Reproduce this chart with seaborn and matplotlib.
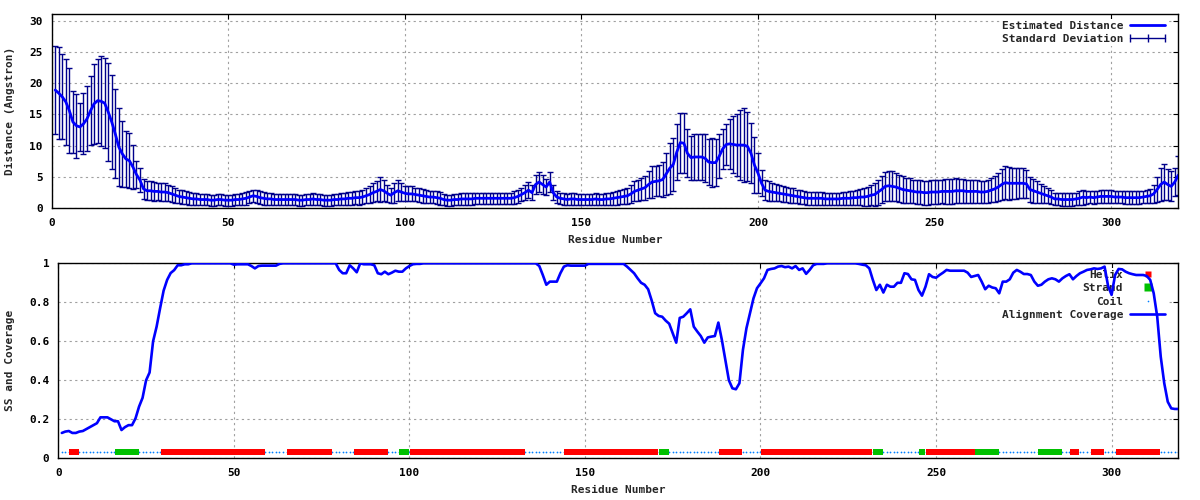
import numpy as np
import pandas as pd
import matplotlib
matplotlib.use("Agg")
import matplotlib.pyplot as plt
import seaborn as sns
from matplotlib.lines import Line2D
from matplotlib.legend_handler import HandlerLine2D
from matplotlib.ticker import FuncFormatter, MultipleLocator

# ---------------- data ----------------
residues = list(range(1, 320))

est_distance = [
    18.9, 18.4, 17.8, 17.0, 15.6, 13.8, 13.2, 13.0, 13.5, 14.3,
    15.6, 16.7, 17.2, 17.1, 16.8, 15.4, 13.8, 11.9, 9.8, 8.7,
    7.9, 7.6, 6.6, 5.4, 4.5, 3.1, 2.8, 2.8, 2.7, 2.7,
    2.6, 2.6, 2.5, 2.3, 2.1, 1.9, 1.8, 1.7, 1.6, 1.5,
    1.5, 1.4, 1.4, 1.4, 1.3, 1.3, 1.4, 1.4, 1.3, 1.3,
    1.3, 1.4, 1.4, 1.5, 1.6, 1.8, 2.0, 1.9, 1.7, 1.6,
    1.5, 1.5, 1.4, 1.4, 1.4, 1.4, 1.4, 1.4, 1.4, 1.3,
    1.3, 1.4, 1.4, 1.5, 1.4, 1.4, 1.3, 1.3, 1.3, 1.4,
    1.4, 1.5, 1.5, 1.6, 1.6, 1.7, 1.7, 1.8, 2.0, 2.2,
    2.5, 2.7, 3.0, 2.8, 2.4, 2.1, 2.5, 2.8, 2.6, 2.4,
    2.3, 2.3, 2.2, 2.1, 2.0, 1.9, 1.8, 1.8, 1.7, 1.6,
    1.4, 1.3, 1.3, 1.4, 1.4, 1.5, 1.5, 1.5, 1.5, 1.6,
    1.6, 1.6, 1.6, 1.6, 1.6, 1.6, 1.6, 1.6, 1.6, 1.6,
    1.7, 1.9, 2.2, 2.5, 2.9, 2.5, 3.8, 4.2, 3.8, 3.4,
    4.2, 2.5, 1.8, 1.6, 1.5, 1.4, 1.5, 1.5, 1.4, 1.4,
    1.4, 1.4, 1.4, 1.5, 1.4, 1.4, 1.5, 1.5, 1.6, 1.7,
    1.8, 1.9, 2.0, 2.3, 2.7, 2.9, 3.1, 3.3, 3.8, 4.2,
    4.3, 4.4, 4.6, 5.5, 6.4, 7.0, 9.0, 10.5, 10.4, 8.8,
    8.1, 8.2, 8.2, 8.2, 8.0, 7.4, 7.3, 7.3, 8.3, 9.5,
    10.2, 10.3, 10.2, 10.1, 10.1, 10.1, 9.9, 8.8, 6.9, 5.6,
    4.0, 2.9, 2.7, 2.6, 2.5, 2.4, 2.3, 2.2, 2.1, 2.0,
    1.9, 1.8, 1.7, 1.6, 1.6, 1.6, 1.6, 1.6, 1.5, 1.5,
    1.5, 1.5, 1.5, 1.6, 1.6, 1.6, 1.7, 1.7, 1.8, 1.8,
    1.9, 2.1, 2.2, 2.6, 3.0, 3.5, 3.6, 3.5, 3.4, 3.2,
    3.0, 2.9, 2.8, 2.7, 2.6, 2.6, 2.5, 2.5, 2.6, 2.6,
    2.6, 2.7, 2.7, 2.7, 2.7, 2.8, 2.8, 2.8, 2.7, 2.7,
    2.7, 2.7, 2.6, 2.6, 2.7, 2.9, 3.1, 3.4, 3.8, 4.1,
    4.0, 4.0, 4.0, 4.0, 4.0, 3.9, 3.0, 2.8, 2.6, 2.4,
    2.2, 2.0, 1.8, 1.5, 1.5, 1.4, 1.4, 1.4, 1.4, 1.5,
    1.6, 1.8, 1.7, 1.8, 1.7, 1.8, 1.9, 1.9, 1.9, 1.9,
    1.8, 1.8, 1.8, 1.7, 1.7, 1.7, 1.7, 1.7, 1.8, 1.9,
    2.0, 2.3, 3.0, 3.8, 4.2, 3.8, 3.5, 4.2, 5.3,
]

std_dev = [
    7.1, 7.3, 6.8, 6.9, 6.8, 4.9, 5.1, 3.9, 4.9, 5.2,
    5.5, 6.4, 6.7, 7.2, 7.2, 7.8, 7.5, 7.1, 6.3, 5.3,
    4.5, 4.4, 3.5, 2.2, 1.9, 1.6, 1.5, 1.5, 1.5, 1.4,
    1.4, 1.4, 1.3, 1.3, 1.2, 1.1, 1.1, 1.0, 1.0, 1.0,
    1.0, 0.9, 0.9, 0.9, 0.9, 0.9, 0.9, 0.9, 0.9, 0.9,
    0.9, 0.9, 0.9, 1.0, 1.0, 1.0, 1.0, 1.0, 1.0, 1.0,
    0.9, 0.9, 0.9, 0.9, 0.9, 0.9, 0.9, 0.9, 0.9, 0.9,
    0.9, 0.9, 0.9, 0.9, 0.9, 0.9, 0.9, 0.9, 0.9, 0.9,
    0.9, 0.9, 1.0, 1.0, 1.0, 1.0, 1.1, 1.1, 1.2, 1.3,
    1.5, 1.6, 2.0, 1.7, 1.4, 1.2, 1.6, 1.7, 1.4, 1.2,
    1.2, 1.2, 1.1, 1.1, 1.1, 1.0, 1.0, 1.0, 1.0, 1.0,
    0.9, 0.9, 0.9, 0.9, 0.9, 0.9, 0.9, 0.9, 0.9, 0.9,
    0.9, 0.9, 0.9, 0.9, 0.9, 0.9, 0.9, 0.9, 0.9, 0.9,
    1.0, 1.0, 1.1, 1.2, 1.3, 1.2, 1.5, 1.6, 1.5, 1.3,
    1.6, 1.2, 1.0, 0.9, 0.9, 0.9, 0.9, 0.9, 0.9, 0.9,
    0.9, 0.9, 0.9, 0.9, 0.9, 0.9, 0.9, 1.0, 1.0, 1.1,
    1.1, 1.2, 1.3, 1.4, 1.6, 1.7, 1.8, 1.9, 2.2, 2.5,
    2.4, 2.5, 2.8, 3.3, 4.1, 4.3, 4.5, 4.8, 4.8, 3.8,
    3.5, 3.7, 3.6, 3.7, 3.8, 3.7, 3.9, 3.7, 3.5, 3.2,
    3.3, 4.0, 4.5, 5.0, 5.6, 5.9, 5.5, 4.8, 4.5, 3.2,
    2.1, 1.6, 1.6, 1.5, 1.4, 1.3, 1.3, 1.2, 1.2, 1.2,
    1.1, 1.1, 1.0, 1.0, 1.0, 1.0, 1.0, 1.0, 1.0, 1.0,
    1.0, 1.0, 1.0, 1.0, 1.0, 1.1, 1.1, 1.2, 1.3, 1.4,
    1.5, 1.6, 1.8, 2.0, 2.2, 2.3, 2.4, 2.4, 2.3, 2.2,
    2.1, 2.0, 2.0, 1.9, 1.9, 1.9, 1.9, 1.9, 1.9, 1.9,
    1.9, 1.9, 2.0, 2.0, 2.0, 2.0, 1.9, 1.9, 1.9, 1.9,
    1.9, 1.9, 1.8, 1.8, 1.8, 1.9, 2.1, 2.3, 2.5, 2.6,
    2.6, 2.5, 2.5, 2.4, 2.4, 2.3, 2.0, 1.9, 1.7, 1.5,
    1.3, 1.2, 1.1, 1.0, 1.0, 1.0, 1.0, 1.0, 1.0, 1.0,
    1.1, 1.2, 1.0, 1.0, 1.0, 1.0, 1.0, 1.0, 1.0, 1.0,
    1.0, 1.0, 1.0, 1.0, 1.0, 1.0, 1.0, 1.0, 1.0, 1.0,
    1.1, 1.4, 2.0, 2.6, 2.8, 2.5, 2.4, 2.3, 3.1,
]

coverage = [
    0.13, 0.137, 0.14, 0.13, 0.13, 0.137, 0.14, 0.15, 0.16, 0.17,
    0.18, 0.21, 0.21, 0.21, 0.20, 0.19, 0.19, 0.145, 0.16, 0.17,
    0.17, 0.205, 0.265, 0.31, 0.40, 0.44, 0.60, 0.675, 0.77, 0.86,
    0.915, 0.95, 0.965, 0.99, 0.99, 0.995, 0.995, 1.0, 1.0, 1.0,
    1.0, 1.0, 1.0, 1.0, 1.0, 1.0, 1.0, 1.0, 1.0, 0.993,
    0.995, 0.995, 0.995, 0.995, 0.986, 0.974, 0.986, 0.988, 0.988, 0.988,
    0.988, 0.988, 0.997, 1.0, 1.0, 1.0, 1.0, 1.0, 1.0, 1.0,
    1.0, 1.0, 1.0, 1.0, 1.0, 1.0, 1.0, 1.0, 1.0, 0.966,
    0.949, 0.949, 0.99, 0.974, 0.954, 1.0, 0.995, 0.995, 0.995, 0.99,
    0.949, 0.944, 0.957, 0.944, 0.952, 0.962, 0.957, 0.957, 0.974, 0.986,
    0.995, 0.997, 0.997, 1.0, 1.0, 1.0, 1.0, 1.0, 1.0, 1.0,
    1.0, 1.0, 1.0, 1.0, 1.0, 1.0, 1.0, 1.0, 1.0, 1.0,
    1.0, 1.0, 1.0, 1.0, 1.0, 1.0, 1.0, 1.0, 1.0, 1.0,
    1.0, 1.0, 1.0, 1.0, 1.0, 1.0, 0.986, 0.94, 0.89, 0.906,
    0.906, 0.906, 0.949, 0.983, 0.99, 0.988, 0.988, 0.988, 0.988, 0.988,
    0.997, 0.997, 0.997, 0.997, 0.997, 0.997, 0.997, 0.997, 0.997, 0.997,
    0.997, 0.983, 0.966, 0.949, 0.923, 0.90, 0.89, 0.867, 0.81, 0.744,
    0.73, 0.726, 0.706, 0.69, 0.641, 0.593, 0.72, 0.726, 0.744, 0.764,
    0.675, 0.65, 0.627, 0.593, 0.62, 0.624, 0.627, 0.696, 0.607, 0.504,
    0.40, 0.359, 0.354, 0.385, 0.556, 0.667, 0.744, 0.82, 0.872, 0.897,
    0.923, 0.966, 0.971, 0.974, 0.983, 0.986, 0.98, 0.983, 0.974, 0.986,
    0.966, 0.974, 0.946, 0.966, 0.99, 0.997, 0.997, 0.997, 1.0, 1.0,
    1.0, 1.0, 1.0, 1.0, 1.0, 1.0, 1.0, 0.997, 0.993, 0.99,
    0.974, 0.915, 0.863, 0.89, 0.85, 0.89, 0.88, 0.88, 0.90, 0.90,
    0.949, 0.945, 0.918, 0.915, 0.863, 0.834, 0.88, 0.944, 0.93, 0.926,
    0.94, 0.952, 0.966, 0.962, 0.962, 0.962, 0.962, 0.962, 0.952, 0.93,
    0.935, 0.94, 0.906, 0.867, 0.885, 0.876, 0.872, 0.846, 0.906, 0.906,
    0.918, 0.952, 0.966, 0.957, 0.945, 0.945, 0.94, 0.906, 0.885, 0.89,
    0.906, 0.918, 0.923, 0.918, 0.906, 0.923, 0.935, 0.944, 0.918, 0.935,
    0.949, 0.957, 0.966, 0.969, 0.974, 0.971, 0.974, 0.983, 0.884, 0.838,
    0.94, 0.971, 0.969, 0.957, 0.949, 0.944, 0.94, 0.94, 0.94, 0.935,
    0.915, 0.846, 0.726, 0.521, 0.385, 0.29, 0.256, 0.253, 0.253,
]

helix_segments = [(4, 5), (30, 58), (66, 77), (85, 93), (101, 132), (145, 170),
                  (189, 194), (201, 231), (248, 261), (289, 290), (295, 297), (302, 313)]
strand_segments = [(17, 22), (98, 99), (172, 173), (233, 234), (246, 246),
                   (262, 267), (280, 285)]
ss_level = 0.03

x_ticks = [0, 50, 100, 150, 200, 250, 300]
top_y_ticks = [0, 5, 10, 15, 20, 25, 30]
bottom_y_ticks = [0, 0.2, 0.4, 0.6, 0.8, 1.0]

# ---------------- style ----------------
sns.set_style("white")
plt.rcParams["font.family"] = ["DejaVu Sans Mono", "DejaVu Sans"]
plt.rcParams["font.weight"] = "bold"
plt.rcParams["font.size"] = 8
plt.rcParams["axes.labelweight"] = "bold"

BLUE = "#0000ff"
NAVY = "#00008b"
RED = "#ff0000"
GREEN = "#00c000"
COIL = "#0080ff"
GRID = "#a0a0a0"

df = pd.DataFrame({"residue": residues, "distance": est_distance,
                   "std": std_dev, "coverage": coverage})

ss = ["C"] * len(residues)
for a, b in helix_segments:
    for r in range(a, b + 1):
        ss[r - 1] = "H"
for a, b in strand_segments:
    for r in range(a, b + 1):
        ss[r - 1] = "E"
df["ss"] = ss
df["ss_y"] = ss_level

fig = plt.figure(figsize=(12, 5), dpi=100)
ax1 = fig.add_axes([0.04308, 0.5834, 0.93883, 0.388])
ax2 = fig.add_axes([0.04858, 0.0834, 0.93333, 0.39])

LEG_PROP = {"family": "DejaVu Sans Mono", "weight": "bold", "size": 8}


def style_axes(ax):
    ax.set_axisbelow(True)
    ax.grid(True, color=GRID, linestyle=(0, (2, 3)), linewidth=0.8)
    for s in ax.spines.values():
        s.set_visible(True)
        s.set_color("black")
        s.set_linewidth(1.0)
    ax.tick_params(direction="in", length=3.6, width=0.8, top=True, right=True,
                   colors="black", labelsize=8)
    ax.tick_params(axis="x", pad=7)
    ax.tick_params(axis="y", pad=6.3)
    for lab in ax.get_xticklabels() + ax.get_yticklabels():
        lab.set_fontweight("bold")


# ---------------- top panel ----------------
ax1.errorbar(df["residue"], df["distance"], yerr=df["std"], fmt="none",
             ecolor=NAVY, elinewidth=1.0, capsize=2.2, capthick=1.0, zorder=2)
sns.lineplot(data=df, x="residue", y="distance", ax=ax1, color=BLUE,
             linewidth=2.0, zorder=3, legend=False)
ax1.set_xlim(0, 319)
ax1.set_ylim(0, 31)
ax1.set_xticks(x_ticks)
ax1.set_yticks(top_y_ticks)
style_axes(ax1)
ax1.set_xlabel("Residue Number", fontsize=8, fontweight="bold")
ax1.set_ylabel("Distance (Angstron)", fontsize=8, fontweight="bold")
ax1.xaxis.set_label_coords(0.5, -0.163)
ax1.xaxis.label.set_va("center")
ax1.yaxis.set_label_coords(-0.037, 0.5)
ax1.yaxis.label.set_va("center")

h_line = Line2D([], [], color=BLUE, linewidth=2.0)
h_err = Line2D([], [], color=NAVY, linewidth=1.0, marker="|", markersize=6,
               markeredgewidth=1.0)
leg1 = ax1.legend([h_line, h_err], ["Estimated Distance", "Standard Deviation"],
                  loc="upper right", bbox_to_anchor=(0.99, 0.975),
                  markerfirst=False, frameon=True, framealpha=1,
                  facecolor="white", edgecolor="none", fancybox=False,
                  borderpad=0.15, borderaxespad=0, labelspacing=0.3,
                  handlelength=3.15, handletextpad=0.66, prop=LEG_PROP,
                  handler_map={h_err: HandlerLine2D(numpoints=3, marker_pad=0)})
leg1.set_zorder(1.5)

# ---------------- bottom panel ----------------
coil_df = df[df["ss"] == "C"]
helix_df = df[df["ss"] == "H"]
strand_df = df[df["ss"] == "E"]
sns.scatterplot(data=coil_df, x="residue", y="ss_y", ax=ax2, color=COIL,
                marker="o", s=1.6, linewidth=0, zorder=2, legend=False)
sns.scatterplot(data=helix_df, x="residue", y="ss_y", ax=ax2, color=RED,
                marker="s", s=5.0 ** 2, linewidth=0, zorder=2.2, legend=False)
sns.scatterplot(data=strand_df, x="residue", y="ss_y", ax=ax2, color=GREEN,
                marker="s", s=5.0 ** 2, linewidth=0, zorder=2.2, legend=False)
sns.lineplot(data=df, x="residue", y="coverage", ax=ax2, color=BLUE,
             linewidth=1.9, zorder=3, legend=False)
ax2.set_xlim(0, 319)
ax2.set_ylim(0, 1)
ax2.set_xticks(x_ticks)
ax2.set_yticks(bottom_y_ticks)
ax2.yaxis.set_major_formatter(FuncFormatter(lambda v, p: f"{v:g}"))
style_axes(ax2)
ax2.set_xlabel("Residue Number", fontsize=8, fontweight="bold")
ax2.set_ylabel("SS and Coverage", fontsize=8, fontweight="bold")
ax2.xaxis.set_label_coords(0.5, -0.163)
ax2.xaxis.label.set_va("center")
ax2.yaxis.set_label_coords(-0.0431, 0.5)
ax2.yaxis.label.set_va("center")

hh = Line2D([], [], linestyle="none", marker="s", markersize=4.0,
            markerfacecolor=RED, markeredgecolor="none")
hs = Line2D([], [], linestyle="none", marker="s", markersize=5.5,
            markerfacecolor=GREEN, markeredgecolor="none")
hc = Line2D([], [], linestyle="none", marker="o", markersize=1.2,
            markerfacecolor=COIL, markeredgecolor="none")
ha = Line2D([], [], color=BLUE, linewidth=1.9)
leg2 = ax2.legend([hh, hs, hc, ha], ["Helix", "Strand", "Coil", "Alignment Coverage"],
                  loc="upper right", bbox_to_anchor=(0.99, 0.975),
                  markerfirst=False, frameon=True, framealpha=1,
                  facecolor="white", edgecolor="none", fancybox=False,
                  borderpad=0.15, borderaxespad=0, labelspacing=0.3,
                  handlelength=3.15, handletextpad=0.66, prop=LEG_PROP)
leg2.set_zorder(1.5)

fig.savefig("out.png", dpi=100)
